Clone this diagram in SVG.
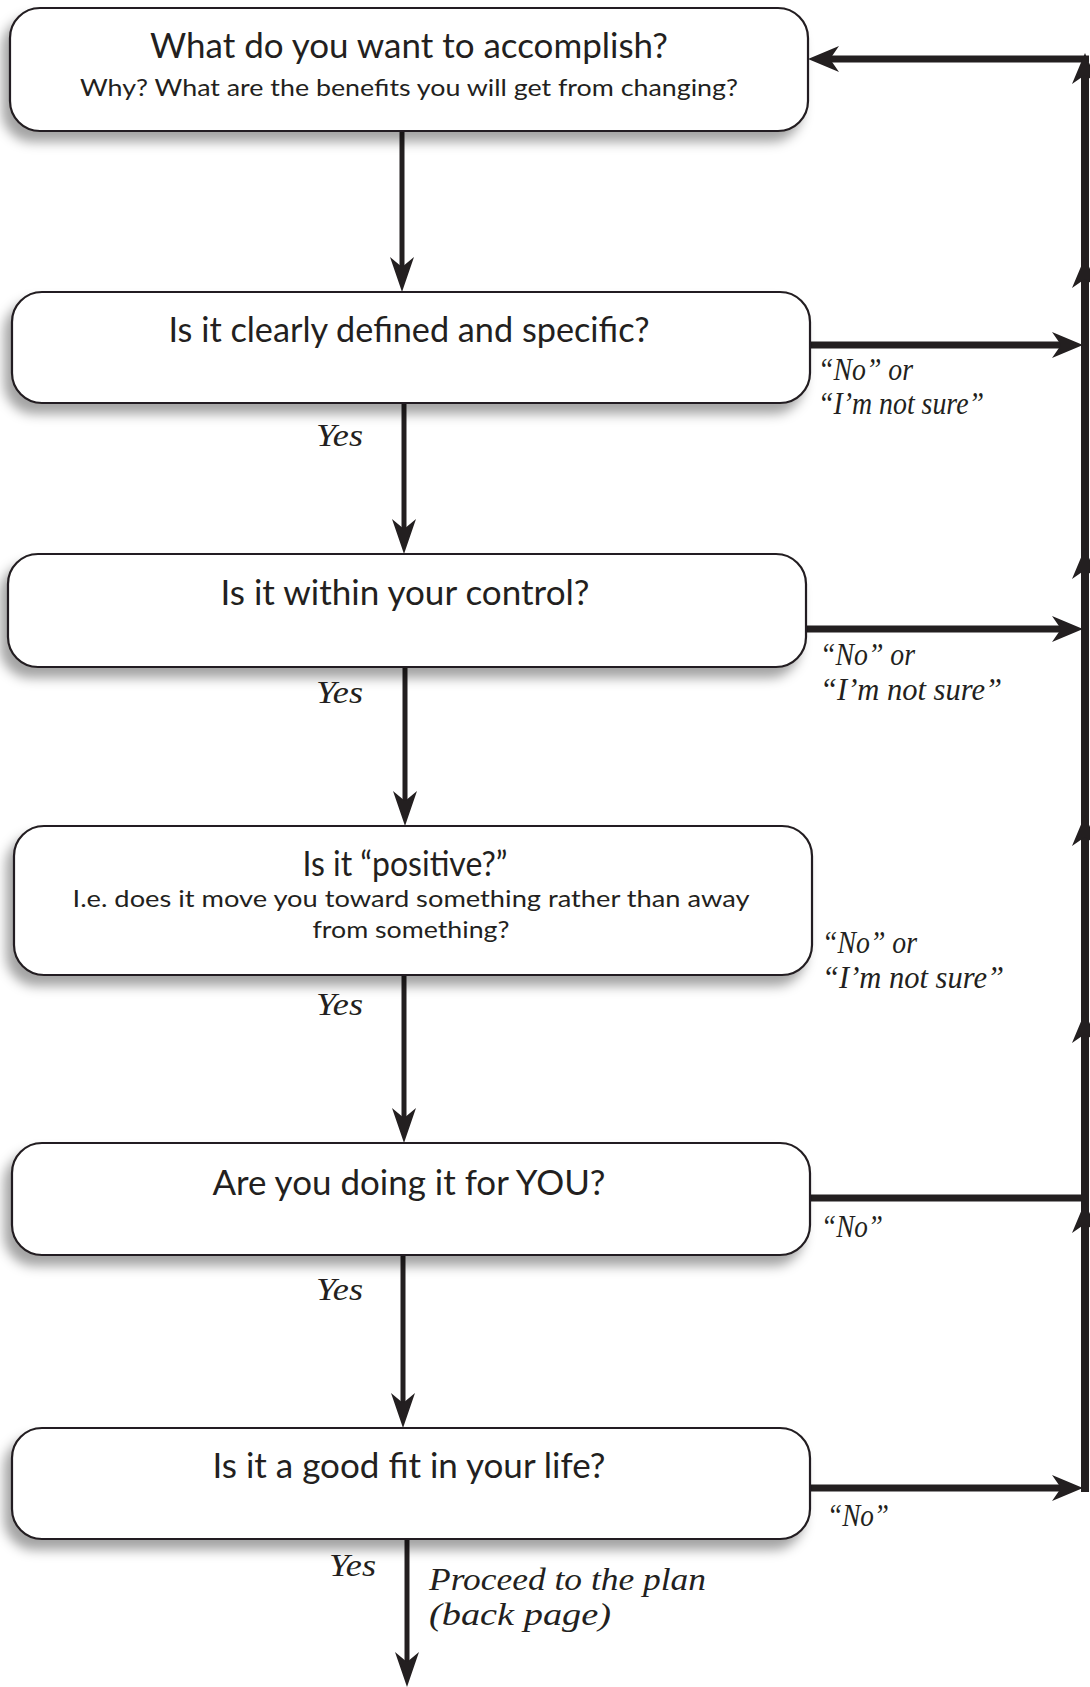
<svg xmlns="http://www.w3.org/2000/svg" xmlns:xlink="http://www.w3.org/1999/xlink" width="1090" height="1687" viewBox="0 0 1090 1687">
<style>
.box{fill:#fff;stroke:#231f20;stroke-width:2.2;filter:url(#sh)}
.t{font-family:Lato,"Open Sans",sans-serif;fill:#231f20;text-anchor:middle}
.big{font-size:35px}
.small{font-size:24px}
.lbl{font-family:"Liberation Serif","Times New Roman",serif;font-style:italic;fill:#231f20;font-size:32px}
.down{stroke:#231f20;stroke-width:5;fill:none}
.side{stroke:#231f20;stroke-width:7;fill:none}
.trunk{stroke:#231f20;stroke-width:8;fill:none}
.ah{fill:#231f20}
</style>
<defs>
<filter id="sh" x="-10%" y="-20%" width="120%" height="160%">
<feDropShadow dx="-7" dy="10" stdDeviation="6" flood-color="#000" flood-opacity="0.36"/>
</filter>
<path id="ahd" d="M0,0 L-12,-35 L0,-25 L12,-35 Z"/>
<path id="ahs" d="M0,0 L-31,-13 L-22,0 L-31,13 Z"/>
</defs>
<rect width="1090" height="1687" fill="#fff"/>

<g id="connectors">
<line class="down" x1="402" y1="131" x2="402" y2="268"/>
<use href="#ahd" class="ah" transform="translate(402,292)"/>
<line class="down" x1="404" y1="403" x2="404" y2="530"/>
<use href="#ahd" class="ah" transform="translate(404,554)"/>
<line class="down" x1="405" y1="667" x2="405" y2="802"/>
<use href="#ahd" class="ah" transform="translate(405,826)"/>
<line class="down" x1="404" y1="975" x2="404" y2="1119"/>
<use href="#ahd" class="ah" transform="translate(404,1143)"/>
<line class="down" x1="403" y1="1255" x2="403" y2="1404"/>
<use href="#ahd" class="ah" transform="translate(403,1428)"/>
<line class="down" x1="407" y1="1539" x2="407" y2="1665"/>
<use href="#ahd" class="ah" transform="translate(407,1687)"/>

<line class="trunk" x1="1085" y1="70" x2="1085" y2="1492"/>
<line class="side" x1="1089" y1="59" x2="830" y2="59"/>
<use href="#ahs" class="ah" transform="translate(808,59) rotate(180)"/>
<line class="side" x1="810" y1="345" x2="1062" y2="345"/>
<use href="#ahs" class="ah" transform="translate(1083,345)"/>
<line class="side" x1="806" y1="629" x2="1062" y2="629"/>
<use href="#ahs" class="ah" transform="translate(1083,629)"/>
<line class="side" x1="810" y1="1198" x2="1085" y2="1198"/>
<line class="side" x1="810" y1="1488" x2="1062" y2="1488"/>
<use href="#ahs" class="ah" transform="translate(1083,1488)"/>

<use href="#ahs" class="ah" transform="translate(1085,53) rotate(-90)"/>
<use href="#ahs" class="ah" transform="translate(1085,257) rotate(-90)"/>
<use href="#ahs" class="ah" transform="translate(1085,548) rotate(-90)"/>
<use href="#ahs" class="ah" transform="translate(1085,815) rotate(-90)"/>
<use href="#ahs" class="ah" transform="translate(1085,1012) rotate(-90)"/>
<use href="#ahs" class="ah" transform="translate(1085,1202) rotate(-90)"/>

<text class="lbl" x="316" y="446" textLength="47" lengthAdjust="spacingAndGlyphs">Yes</text>
<text class="lbl" x="316" y="703" textLength="47" lengthAdjust="spacingAndGlyphs">Yes</text>
<text class="lbl" x="316" y="1015" textLength="47" lengthAdjust="spacingAndGlyphs">Yes</text>
<text class="lbl" x="316" y="1300" textLength="47" lengthAdjust="spacingAndGlyphs">Yes</text>
<text class="lbl" x="329" y="1576" textLength="47" lengthAdjust="spacingAndGlyphs">Yes</text>
<text class="lbl" x="429" y="1590" textLength="277" lengthAdjust="spacingAndGlyphs">Proceed to the plan</text>
<text class="lbl" x="429" y="1625" textLength="182" lengthAdjust="spacingAndGlyphs">(back page)</text>

<text class="lbl" x="818" y="380" textLength="95" lengthAdjust="spacingAndGlyphs">“No” or</text>
<text class="lbl" x="818" y="414" textLength="166" lengthAdjust="spacingAndGlyphs">“I’m not sure”</text>
<text class="lbl" x="820" y="665" textLength="95" lengthAdjust="spacingAndGlyphs">“No” or</text>
<text class="lbl" x="820" y="700" textLength="182" lengthAdjust="spacingAndGlyphs">“I’m not sure”</text>
<text class="lbl" x="822" y="953" textLength="95" lengthAdjust="spacingAndGlyphs">“No” or</text>
<text class="lbl" x="822" y="988" textLength="182" lengthAdjust="spacingAndGlyphs">“I’m not sure”</text>
<text class="lbl" x="821" y="1237" textLength="62" lengthAdjust="spacingAndGlyphs">“No”</text>
<text class="lbl" x="827" y="1526" textLength="62" lengthAdjust="spacingAndGlyphs">“No”</text>
</g>

<g id="node1">
<rect class="box" x="10" y="8" width="798" height="123" rx="30" ry="30"/>
<text class="t big" x="409" y="58" textLength="518" lengthAdjust="spacingAndGlyphs">What do you want to accomplish?</text>
<text class="t small" x="409" y="96" textLength="658" lengthAdjust="spacingAndGlyphs">Why? What are the benefits you will get from changing?</text>
</g>
<g id="node2">
<rect class="box" x="12" y="292" width="798" height="111" rx="30" ry="30"/>
<text class="t big" x="409" y="342" textLength="481" lengthAdjust="spacingAndGlyphs">Is it clearly defined and specific?</text>
</g>
<g id="node3">
<rect class="box" x="8" y="554" width="798" height="113" rx="30" ry="30"/>
<text class="t big" x="405" y="605" textLength="369" lengthAdjust="spacingAndGlyphs">Is it within your control?</text>
</g>
<g id="node4">
<rect class="box" x="14" y="826" width="798" height="149" rx="30" ry="30"/>
<text class="t big" x="405" y="876" textLength="205" lengthAdjust="spacingAndGlyphs">Is it “positive?”</text>
<text class="t small" x="411" y="907" textLength="677" lengthAdjust="spacingAndGlyphs">I.e. does it move you toward something rather than away</text>
<text class="t small" x="411" y="938" textLength="197" lengthAdjust="spacingAndGlyphs">from something?</text>
</g>
<g id="node5">
<rect class="box" x="12" y="1143" width="798" height="112" rx="30" ry="30"/>
<text class="t big" x="409" y="1195" textLength="393" lengthAdjust="spacingAndGlyphs">Are you doing it for YOU?</text>
</g>
<g id="node6">
<rect class="box" x="12" y="1428" width="798" height="111" rx="30" ry="30"/>
<text class="t big" x="409" y="1478" textLength="393" lengthAdjust="spacingAndGlyphs">Is it a good fit in your life?</text>
</g>
</svg>
